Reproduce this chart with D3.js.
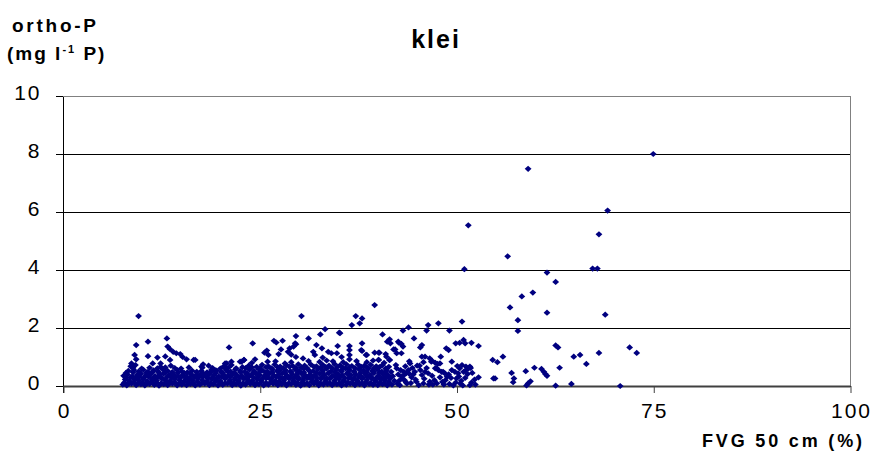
<!DOCTYPE html>
<html>
<head>
<meta charset="utf-8">
<script src="https://cdn.jsdelivr.net/npm/d3@7"></script>
<style>
  html, body { margin: 0; padding: 0; background: #fff; }
  svg { display: block; font-family: Arial, "Liberation Sans", sans-serif; }
</style>
</head>
<body>
<svg id="chart" width="876" height="457"></svg>
<script>
// Axis ticks and labels
const xTicks = [0, 25, 50, 75, 100];
const yTicks = [0, 2, 4, 6, 8, 10];
const titleText = "klei";
const xTitle = "FVG 50 cm (%)";

// Measurements: [FVG 50 cm (%), ortho-P (mg/l P)]
const baseRowA = [
  [7.6,0.05],[8.1,0.02],[8.7,0.08],[9.3,0.03],[9.9,0.06],[10.4,0.02],[11.0,0.07],[11.6,0.04],[12.2,0.01],[12.8,0.06],
  [13.3,0.03],[13.9,0.08],[14.5,0.02],[15.1,0.05],[15.7,0.03],[16.2,0.07],[16.8,0.02],[17.4,0.05],[18.0,0.08],[18.6,0.03],
  [19.1,0.06],[19.7,0.02],[20.3,0.04],[20.9,0.08],[21.5,0.03],[22.0,0.06],[22.6,0.01],[23.2,0.05],[23.8,0.07],[24.4,0.03],
  [24.9,0.06],[25.5,0.02],[26.1,0.05],[26.7,0.08],[27.3,0.03],[27.8,0.06],[28.4,0.02],[29.0,0.07],[29.6,0.04],[30.2,0.01],
  [30.7,0.06],[31.3,0.03],[31.9,0.08],[32.5,0.02],[33.1,0.05],[33.6,0.07],[34.2,0.03],[34.8,0.06],[35.4,0.02],[36.0,0.05],
  [36.5,0.08],[37.1,0.03],[37.7,0.06],[38.3,0.02],[38.9,0.07],[39.4,0.04],[40.0,0.03],[40.6,0.06],[41.2,0.02],[41.8,0.05]
];
const fillRowA = [
  [7.8,0.12],[8.4,0.10],[9.0,0.14],[9.6,0.11],[10.1,0.13],[10.7,0.10],[11.3,0.15],[11.9,0.12],[12.5,0.10],[13.1,0.14],
  [13.6,0.11],[14.2,0.13],[14.8,0.10],[15.4,0.15],[15.9,0.12],[16.5,0.10],[17.1,0.14],[17.7,0.11],[18.3,0.13],[18.8,0.10],
  [19.4,0.15],[20.0,0.12],[20.6,0.10],[21.2,0.14],[21.7,0.11],[22.3,0.13],[22.9,0.10],[23.5,0.15],[24.1,0.12],[24.6,0.10],
  [25.2,0.14],[25.8,0.11],[26.4,0.13],[27.0,0.10],[27.5,0.15],[28.1,0.12],[28.7,0.10],[29.3,0.14],[29.8,0.11],[30.4,0.13],
  [31.0,0.10],[31.6,0.15],[32.2,0.12],[32.7,0.10],[33.3,0.14],[33.9,0.11],[34.5,0.13],[35.1,0.10],[35.6,0.15],[36.2,0.12],
  [36.8,0.10],[37.4,0.14],[38.0,0.11],[38.5,0.13],[39.1,0.10],[39.7,0.15],[40.3,0.12],[40.8,0.10],[41.4,0.14]
];
const baseRowB = [
  [7.9,0.22],[8.4,0.18],[9.0,0.25],[9.6,0.20],[10.2,0.24],[10.7,0.17],[11.3,0.23],[11.9,0.19],[12.5,0.26],[13.0,0.21],
  [13.6,0.18],[14.2,0.24],[14.8,0.20],[15.4,0.17],[15.9,0.23],[16.5,0.19],[17.1,0.25],[17.7,0.20],[18.3,0.18],[18.9,0.24],
  [19.4,0.21],[20.0,0.17],[20.6,0.25],[21.2,0.20],[21.8,0.23],[22.3,0.18],[22.9,0.26],[23.5,0.21],[24.1,0.19],[24.7,0.24],
  [25.2,0.20],[25.8,0.27],[26.4,0.22],[27.0,0.18],[27.6,0.25],[28.1,0.21],[28.7,0.26],[29.3,0.19],[29.9,0.24],[30.5,0.20],
  [31.0,0.27],[31.6,0.22],[32.2,0.18],[32.8,0.25],[33.4,0.21],[33.9,0.26],[34.5,0.19],[35.1,0.24],[35.7,0.20],[36.3,0.27],
  [36.8,0.22],[37.4,0.18],[38.0,0.25],[38.6,0.21],[39.2,0.26],[39.7,0.19],[40.3,0.24],[40.9,0.20],[41.5,0.25],[42.1,0.18]
];
const fillRowB = [
  [8.0,0.28],[8.6,0.30],[9.2,0.27],[9.7,0.31],[10.3,0.29],[10.9,0.32],[11.5,0.28],[12.0,0.30],[12.6,0.27],[13.2,0.31],
  [13.8,0.29],[14.3,0.32],[14.9,0.28],[15.5,0.30],[16.1,0.27],[16.7,0.31],[17.2,0.29],[17.8,0.32],[18.4,0.28],[19.0,0.30],
  [19.6,0.27],[20.2,0.31],[20.7,0.29],[21.3,0.32],[21.9,0.28],[22.5,0.30],[23.1,0.27],[23.6,0.31],[24.2,0.29],[24.8,0.32],
  [25.4,0.28],[26.0,0.30],[26.5,0.27],[27.1,0.31],[27.7,0.29],[28.3,0.32],[28.9,0.28],[29.4,0.30],[30.0,0.27],[30.6,0.31],
  [31.2,0.29],[31.8,0.32],[32.3,0.28],[32.9,0.30],[33.5,0.27],[34.1,0.31],[34.7,0.29],[35.2,0.32],[35.8,0.28],[36.4,0.30],
  [37.0,0.27],[37.6,0.31],[38.1,0.29],[38.7,0.32],[39.3,0.28],[39.9,0.30],[40.5,0.27],[41.0,0.31],[41.6,0.29]
];
const midRowA = [
  [7.7,0.35],[8.2,0.40],[8.8,0.33],[9.4,0.38],[9.9,0.42],[10.5,0.36],[11.1,0.40],[11.7,0.34],[12.3,0.39],[12.8,0.43],
  [13.4,0.36],[14.0,0.41],[14.6,0.35],[15.2,0.38],[15.7,0.33],[16.3,0.40],[16.9,0.36],[17.5,0.39],[18.1,0.34],[18.6,0.41],
  [19.2,0.37],[19.8,0.33],[20.4,0.40],[21.0,0.36],[21.6,0.42],[22.1,0.38],[22.7,0.35],[23.3,0.41],[23.9,0.37],[24.5,0.43],
  [25.0,0.38],[25.6,0.35],[26.2,0.42],[26.8,0.37],[27.4,0.40],[27.9,0.44],[28.5,0.36],[29.1,0.41],[29.7,0.38],[30.3,0.43],
  [30.8,0.37],[31.4,0.40],[32.0,0.35],[32.6,0.42],[33.2,0.38],[33.7,0.44],[34.3,0.36],[34.9,0.41],[35.5,0.38],[36.1,0.43],
  [36.6,0.37],[37.2,0.40],[37.8,0.35],[38.4,0.42],[39.0,0.38],[39.5,0.44],[40.1,0.36],[40.7,0.41],[41.3,0.38],[41.9,0.34],
  [42.6,0.40],[43.3,0.37],[44.0,0.42]
];
const fillRowC = [
  [8.0,0.45],[8.9,0.47],[9.8,0.44],[10.6,0.46],[11.4,0.48],[12.2,0.45],[13.0,0.47],[13.8,0.44],[14.6,0.46],[15.4,0.45],
  [16.2,0.44],[17.0,0.46],[17.8,0.43],[18.6,0.45],[19.4,0.44],[20.2,0.46],[21.0,0.48],[21.8,0.45],[22.6,0.47],[23.4,0.44],
  [24.2,0.46],[25.0,0.48],[25.8,0.45],[26.6,0.47],[27.4,0.50],[28.2,0.46],[29.0,0.48],[29.8,0.45],[30.6,0.47],[31.4,0.50],
  [32.2,0.46],[33.0,0.48],[33.8,0.45],[34.6,0.47],[35.4,0.50],[36.2,0.46],[37.0,0.48],[37.8,0.45],[38.6,0.47],[39.4,0.50],
  [40.2,0.46],[41.0,0.48]
];
const midRowB = [
  [8.3,0.52],[9.0,0.55],[9.6,0.50],[10.2,0.56],[10.8,0.49],[11.5,0.54],[12.1,0.50],[12.7,0.57],[13.3,0.52],[13.9,0.48],
  [14.5,0.55],[15.1,0.50],[15.8,0.47],[16.4,0.53],[17.0,0.49],[17.6,0.52],[18.3,0.47],[18.9,0.50],[19.5,0.53],[20.1,0.48],
  [20.7,0.55],[21.3,0.50],[21.9,0.57],[22.5,0.52],[23.1,0.49],[23.7,0.56],[24.3,0.51],[24.9,0.58],[25.4,0.53],[26.0,0.50],
  [26.6,0.57],[27.2,0.52],[27.7,0.59],[28.3,0.54],[28.9,0.50],[29.5,0.57],[30.0,0.53],[30.6,0.60],[31.2,0.55],[31.8,0.51],
  [32.4,0.58],[33.0,0.54],[33.5,0.60],[34.1,0.52],[34.7,0.57],[35.3,0.53],[35.9,0.60],[36.4,0.55],[37.0,0.51],[37.6,0.58],
  [38.2,0.54],[38.8,0.60],[39.3,0.52],[39.9,0.57],[40.5,0.50],[41.1,0.55],[41.7,0.49]
];
const fillRowD = [
  [20.0,0.60],[21.0,0.63],[22.0,0.61],[23.2,0.62],[24.0,0.64],[25.0,0.62],[25.8,0.65],[26.5,0.61],[27.3,0.64],[28.0,0.62],
  [28.8,0.66],[29.6,0.63],[30.3,0.65],[31.0,0.62],[31.9,0.66],[32.7,0.63],[33.4,0.65],[34.2,0.62],[34.9,0.66],[35.6,0.63],
  [36.4,0.65],[37.1,0.62],[37.9,0.66],[38.7,0.63],[39.5,0.62],[40.2,0.65],[41.0,0.60],[8.9,0.62],[10.0,0.60],[11.0,0.63],
  [12.0,0.61],[13.0,0.64],[14.2,0.62],[15.0,0.60]
];
const upperRow = [
  [8.6,0.68],[9.2,0.72],[12.4,0.66],[13.7,0.70],[16.0,0.64],[19.0,0.62],[20.5,0.67],[21.4,0.72],[22.8,0.65],[23.6,0.70],
  [24.6,0.66],[25.3,0.73],[26.1,0.68],[26.9,0.74],[27.6,0.67],[28.4,0.72],[29.2,0.69],[29.9,0.75],[30.7,0.70],[31.5,0.74],
  [32.2,0.68],[33.0,0.73],[33.8,0.70],[34.5,0.76],[35.2,0.71],[36.0,0.75],[36.7,0.69],[37.5,0.74],[38.3,0.70],[39.1,0.73],
  [39.8,0.68],[40.6,0.72],[41.4,0.66],
  [9.3,0.92],[8.7,0.78],[11.4,0.78],[12.4,0.78],[13.6,0.90],[15.7,0.92],[16.8,0.90],[17.6,0.67],[20.6,0.78],[21.4,0.84],
  [22.5,0.84],[23.0,0.90],[24.0,0.80],[24.4,0.92],[26.0,0.84],[28.2,0.78],[27.0,0.85],[29.0,0.82],[30.5,0.95],[31.2,0.86],
  [32.6,0.83],[33.5,0.88],[34.3,0.85],[35.6,0.82],[36.4,0.92],[37.3,0.86],[38.6,0.82],[39.4,0.88],[40.1,0.90],[41.5,0.90],
  [40.8,0.80],[17.8,0.75],[18.5,0.70],[12.0,0.98],[15.2,1.00],[13.0,1.02]
];
const spreadLow = [
  [9.6,2.41],[13.2,1.64],[10.8,1.53],[9.3,1.41],[13.3,1.36],[13.6,1.27],[14.0,1.18],[14.4,1.13],[14.9,1.10],[10.8,1.03],
  [9.1,1.07],[16.6,0.90],[17.7,0.63],[18.9,0.57],[20.8,0.78],[22.7,0.84]
];
const spreadMid = [
  [30.3,2.41],[29.6,1.72],[29.5,1.47],[29.3,1.36],[26.8,1.56],[27.9,1.56],[27.1,1.50],[24.1,1.47],[21.1,1.33],[27.4,1.10],
  [27.7,1.26],[25.9,1.22],[25.6,1.15],[28.6,1.18],[29.0,1.08],[29.6,1.00],[23.0,0.90],[20.4,0.67],[19.3,0.55],[26.1,1.07],
  [28.8,1.30],[29.6,1.44],
  [39.6,2.79],[37.2,2.41],[38.0,2.33],[37.7,2.16],[36.7,2.10],[33.3,1.96],[32.7,1.78],[35.1,1.84],[31.2,1.64],[40.6,1.78],
  [41.5,1.61],[41.2,1.53],[41.6,1.47],[42.7,1.49],[32.2,1.41],[34.9,1.38],[36.4,1.38],[36.4,1.24],[36.4,1.07],[38.0,1.47],
  [38.0,1.21],[38.5,1.07],[32.9,1.30],[33.7,1.18],[34.1,1.13],[31.8,1.18],[32.0,1.07],[42.2,1.26],[42.4,1.13],[40.2,1.15],
  [41.1,1.01],[41.5,0.90],[40.1,0.90],[34.8,1.13],[35.2,1.82],[39.6,1.15],[40.1,1.15],[41.0,1.10],[42.0,1.26],[38.6,1.07],
  [37.9,1.24],[35.4,1.00],[33.0,0.98]
];
const spreadHigh = [
  [47.7,2.16],[46.4,2.10],[46.2,1.91],[43.9,2.02],[43.2,1.91],[50.7,2.22],[49.1,1.91],[44.6,1.64],[42.6,1.53],[43.0,1.45],
  [43.2,1.36],[45.6,1.41],[45.4,1.33],[49.9,1.47],[50.4,1.49],[50.9,1.59],[51.1,1.47],[51.9,1.49],[52.8,1.38],[49.0,1.24],
  [48.7,1.30],[43.0,1.13],[45.6,1.01],[46.0,1.01],[46.6,0.95],[46.9,0.87],[47.3,0.80],[47.6,0.76],[48.0,1.01],[44.1,0.78],
  [49.4,0.84],[50.7,0.72],[51.2,0.67],[51.7,0.67],[42.4,0.61],[42.9,0.55],[43.3,0.49],[43.6,0.44],[44.7,0.49],[45.4,0.55],
  [46.0,0.49],[47.3,0.61],[47.7,0.55],[48.1,0.49],[48.5,0.44],[49.4,0.55],[49.8,0.49],[50.2,0.44],[51.2,0.55],[51.5,0.60],
  [51.8,0.62],[52.8,0.30],[43.6,0.12],[44.9,0.15],[45.8,0.09],[47.0,0.05],[48.2,0.14],[49.1,0.07],[50.0,0.26],[48.8,0.32],
  [48.3,0.49],[47.5,0.61],[46.4,0.44],[45.6,0.38],[44.3,0.30],[43.1,0.25],[42.7,0.18],[50.6,0.18],[51.4,0.41],[50.9,0.49],
  [51.9,0.12],[52.4,0.05],[42.8,0.03],[43.7,0.09],[46.6,0.15],[47.5,0.09],[48.4,0.05],[49.6,0.02],[50.5,0.08],[51.7,0.03],
  [45.0,0.70],[44.4,0.62],[46.8,0.84],[47.9,0.78],[50.1,0.69],[50.4,0.61],
  [42.5,0.08],[43.0,0.33],[43.4,0.20],[43.9,0.55],[44.2,0.10],[44.5,0.40],[44.8,0.22],[45.2,0.03],[45.3,0.70],[45.9,0.25],
  [46.2,0.62],[46.5,0.05],[46.9,0.35],[47.2,0.20],[47.9,0.30],[48.6,0.20],[49.0,0.40],[49.3,0.28],[49.9,0.12],[50.3,0.33],
  [50.8,0.02],[51.1,0.28],[52.0,0.45],[52.3,0.22],[42.3,0.72],[43.5,0.68],[44.0,0.85],[45.8,0.82]
];
const outliers = [
  [75.0,8.00],[59.1,7.49],[69.2,6.05],[51.5,5.54],[68.1,5.23],[56.5,4.47],[51.0,4.03],[67.3,4.05],[67.9,4.05],[61.5,3.91],
  [62.6,3.59],[59.7,3.22],[58.3,3.09],[56.8,2.71],[61.5,2.53],[68.9,2.46],[57.8,2.27],[57.8,1.90],[62.6,1.40],[62.9,1.33],
  [72.0,1.33],[72.9,1.14],[68.1,1.14],[55.9,1.01],[54.6,0.90],[55.2,0.82],[64.9,1.01],[65.7,1.07],[66.5,0.76],[63.1,0.63],
  [59.9,0.63],[58.8,0.51],[60.8,0.59],[61.1,0.49],[61.3,0.41],[61.5,0.35],[57.0,0.45],[57.3,0.26],[57.2,0.13],[54.7,0.26],
  [54.9,0.26],[58.9,0.02],[59.1,0.09],[59.4,0.16],[62.6,0.01],[64.6,0.07],[70.8,0.00]
];

const points = [].concat(baseRowA, fillRowA, baseRowB, fillRowB, midRowA, fillRowC, midRowB,
                         fillRowD, upperRow, spreadLow, spreadMid, spreadHigh, outliers);

const svg = d3.select("#chart");
const plot = { left: 63, top: 96, right: 850, bottom: 386 };

const x = d3.scaleLinear().domain([0, 100]).range([plot.left, plot.right]);
const y = d3.scaleLinear().domain([0, 10]).range([plot.bottom, plot.top]);

// Horizontal gridlines with short ticks to the left of the axis
const yAxis = d3.axisLeft(y).tickValues(yTicks).tickSize(8).tickPadding(14).tickFormat(d3.format("d"));
const gy = svg.append("g").attr("transform", `translate(${plot.left + 0.5},0)`).call(yAxis);
gy.select(".domain").remove();
gy.selectAll(".tick line").attr("x1", -8).attr("x2", plot.right - plot.left)
  .attr("stroke", "#000").attr("shape-rendering", "crispEdges");
gy.selectAll(".tick text").attr("font-size", 21).attr("letter-spacing", "2px")
  .attr("fill", "#000").attr("dy", "0.18em").attr("font-family", "Arial, 'Liberation Sans', sans-serif");

// Plot frame: left axis, right border, top border
svg.append("line").attr("x1", plot.left + 0.5).attr("x2", plot.left + 0.5)
  .attr("y1", plot.top).attr("y2", plot.bottom + 7).attr("stroke", "#000").attr("shape-rendering", "crispEdges");
svg.append("line").attr("x1", plot.right + 0.5).attr("x2", plot.right + 0.5)
  .attr("y1", plot.top).attr("y2", plot.bottom).attr("stroke", "#808080").attr("shape-rendering", "crispEdges");
svg.append("line").attr("x1", plot.left).attr("x2", plot.right + 1)
  .attr("y1", plot.top + 0.5).attr("y2", plot.top + 0.5).attr("stroke", "#808080").attr("shape-rendering", "crispEdges");

// Bottom axis
const xAxis = d3.axisBottom(x).tickValues(xTicks).tickSize(7).tickSizeOuter(0).tickPadding(10);
const gx = svg.append("g").attr("transform", `translate(0,${plot.bottom})`).call(xAxis);
gx.select(".domain").attr("stroke", "#404040").attr("stroke-width", 2);
gx.selectAll(".tick line").attr("stroke", "#404040").attr("transform", "translate(0.5,0)");
gx.selectAll(".tick text").attr("font-size", 21).attr("letter-spacing", "2px")
  .attr("fill", "#000").attr("dx", "1px").attr("font-family", "Arial, 'Liberation Sans', sans-serif");

// Scatter markers
const diamond = "M0,-3.1L3.4,0L0,3.1L-3.4,0Z";
svg.append("g").selectAll("path").data(points).join("path")
  .attr("d", diamond)
  .attr("transform", d => `translate(${x(d[0])},${y(d[1])})`)
  .attr("fill", "#000080");

// Titles
svg.append("text").attr("x", 436).attr("y", 48).attr("text-anchor", "middle")
  .attr("font-size", 25).attr("font-weight", "bold").attr("letter-spacing", "2px").text(titleText);

svg.append("text").attr("x", 12).attr("y", 32).attr("font-size", 19).attr("font-weight", "bold")
  .attr("textLength", 84).attr("lengthAdjust", "spacing").text("ortho-P");

const unit = svg.append("text").attr("x", 7).attr("y", 60).attr("font-size", 19).attr("font-weight", "bold")
  .attr("letter-spacing", "2px");
unit.append("tspan").text("(mg l");
unit.append("tspan").attr("font-size", 11).attr("dy", -7).text("-1");
unit.append("tspan").attr("dy", 7).text(" P)");

svg.append("text").attr("x", 702).attr("y", 447).attr("font-size", 18).attr("font-weight", "bold")
  .attr("textLength", 160).attr("lengthAdjust", "spacing").text(xTitle);
</script>
</body>
</html>
